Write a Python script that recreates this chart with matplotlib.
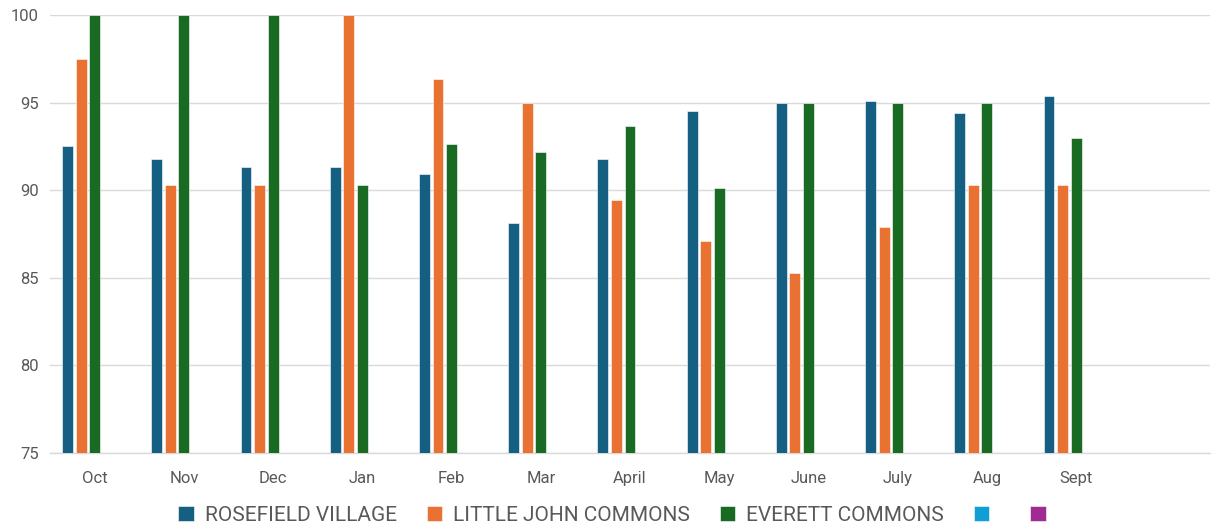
import numpy as np
import matplotlib
matplotlib.use("Agg")
import matplotlib.pyplot as plt

categories = ["Oct", "Nov", "Dec", "Jan", "Feb", "Mar", "April", "May", "June", "July", "Aug", "Sept"]
series_names = ["ROSEFIELD VILLAGE", "LITTLE JOHN COMMONS", "EVERETT COMMONS", "", ""]
rosefield = [92.5, 91.75, 91.3, 91.3, 90.9, 88.15, 91.75, 94.5, 95.0, 95.1, 94.4, 95.4]
little_john = [97.5, 90.3, 90.3, 100.0, 96.35, 95.0, 89.45, 87.1, 85.25, 87.9, 90.3, 90.3]
everett = [100.0, 100.0, 100.0, 90.3, 92.65, 92.2, 93.65, 90.1, 95.0, 95.0, 95.0, 93.0]
empty1 = [np.nan] * 12
empty2 = [np.nan] * 12
colors = ["#156082", "#E97132", "#196B24", "#0F9ED5", "#A02B93"]
yticks = [75, 80, 85, 90, 95, 100]

plt.rcParams['font.family'] = ['Roboto', 'DejaVu Sans']

fig = plt.figure(figsize=(12.14, 5.24), dpi=100)
ax = fig.add_axes([0.0412, 0.1355, 0.9555, 0.836])

data = [rosefield, little_john, everett, empty1, empty2]
x = np.arange(len(categories))
slot = 0.152
width = 0.122
handles = []
for i, (vals, name, c) in enumerate(zip(data, series_names, colors)):
    b = ax.bar(x + (i - 2) * slot, vals, width=width, color=c,
               edgecolor="white", linewidth=0.4, zorder=3)
    handles.append(b)

ax.set_ylim(75, 100)
ax.set_xlim(-0.5, len(categories) + 0.5)
ax.set_yticks(yticks)
ax.set_xticks(x)
ax.set_xticklabels(categories)
ax.grid(axis="y", color="#D9D9D9", linewidth=1.0, zorder=0)
for s in ["top", "right", "left"]:
    ax.spines[s].set_visible(False)
ax.spines["bottom"].set_color("#D9D9D9")
ax.spines["bottom"].set_linewidth(1.0)
ax.tick_params(axis="both", length=0, colors="#595959", labelsize=12)
ax.tick_params(axis="x", pad=13)
ax.tick_params(axis="y", pad=8)

leg = fig.legend(handles=handles, labels=series_names, loc="center",
                 bbox_to_anchor=(0.5085, 0.016), ncol=5, frameon=False,
                 fontsize=15, handlelength=0.75, handleheight=0.75,
                 handletextpad=0.5, columnspacing=1.45)
for t in leg.get_texts():
    t.set_color("#595959")

fig.savefig("out.png", dpi=100)
